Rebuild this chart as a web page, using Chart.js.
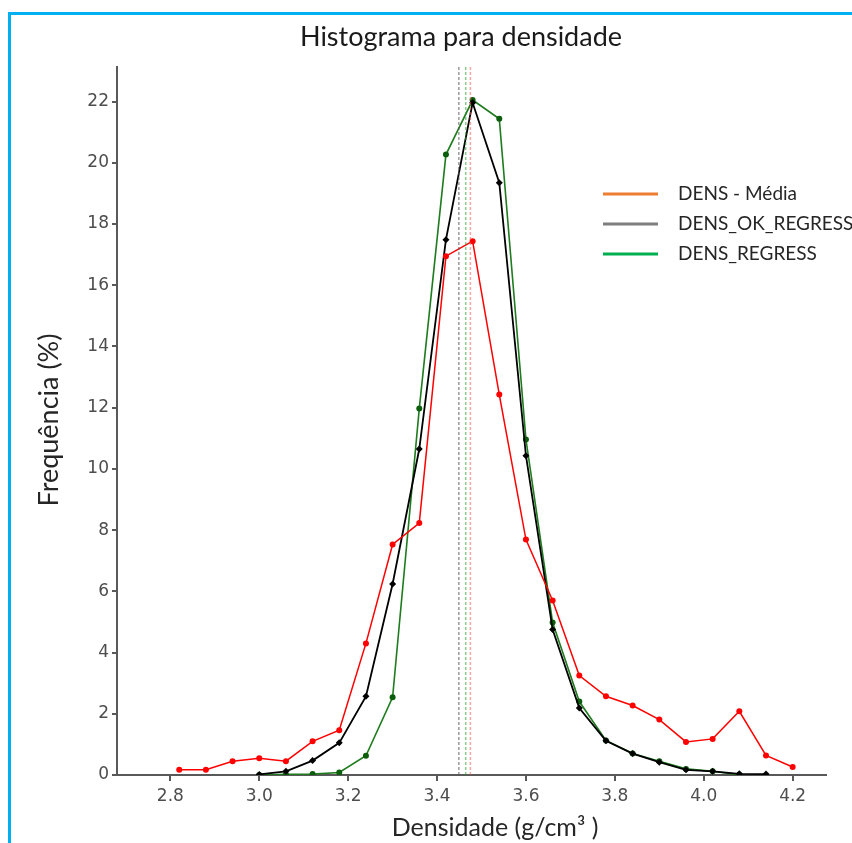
<!DOCTYPE html>
<html lang="pt">
<head>
    <meta charset="UTF-8">
    <title>Histograma para densidade</title>
    <style>
        body { margin: 0; padding: 0; background: #fff; overflow: hidden; }
        .wrap { position: relative; width: 852px; height: 843px; }
        .frame { position: absolute; left: 8px; top: 12px; right: -10px; bottom: -10px;
                 border-top: 3px solid #00B0F0; border-left: 3px solid #00B0F0; pointer-events: none; }
    </style>
    <script src="https://cdn.jsdelivr.net/npm/chart.js"></script>
</head>
<body>
<div class="wrap">
    <canvas id="histChart"></canvas>
    <div class="frame"></div>
</div>

<script>
    // bin centres (g/cm3)
    const binCenters = [2.82, 2.88, 2.94, 3.00, 3.06, 3.12, 3.18, 3.24, 3.30, 3.36, 3.42, 3.48,
                        3.54, 3.60, 3.66, 3.72, 3.78, 3.84, 3.90, 3.96, 4.02, 4.08, 4.14, 4.20];

    // frequency (%) per bin
    const densMedia = [0.17, 0.17, 0.45, 0.55, 0.45, 1.10, 1.46, 4.30, 7.53, 8.23, 16.95, 17.44,
                       12.43, 7.69, 5.70, 3.25, 2.57, 2.27, 1.81, 1.08, 1.18, 2.08, 0.64, 0.26];
    const densOkRegress = [null, null, null, 0.02, 0.12, 0.47, 1.05, 2.57, 6.24, 10.65, 17.49, 21.96,
                           19.35, 10.43, 4.75, 2.19, 1.12, 0.70, 0.42, 0.17, 0.12, 0.04, 0.03, null];
    const densRegress = [null, null, null, 0.00, 0.02, 0.03, 0.08, 0.63, 2.54, 11.97, 20.27, 22.05,
                         21.44, 10.96, 4.98, 2.40, 1.13, 0.70, 0.45, 0.20, 0.12, 0.01, null, null];

    // means drawn as dashed verticals
    const meanMedia = 3.475;
    const meanOkRegress = 3.449;
    const meanRegress = 3.4645;

    const xTicks = [2.8, 3.0, 3.2, 3.4, 3.6, 3.8, 4.0, 4.2];
    const yTicks = [0, 2, 4, 6, 8, 10, 12, 14, 16, 18, 20, 22];
    const xMin = 2.68, xMax = 4.275;
    const yMin = 0, yMax = 23.13;

    const legendNames = ['DENS - Média', 'DENS_OK_REGRESS', 'DENS_REGRESS'];
    const legendColors = ['#ED7D31', '#7F7F7F', '#00B050'];

    function toPoints(values) {
        return binCenters.map((x, i) => ({ x: x, y: values[i] }));
    }

    function meanLine(x) {
        return [{ x: x, y: yMin }, { x: x, y: yMax }];
    }

    // title, axis titles and the legend box drawn straight on the canvas
    const textPlugin = {
        id: 'textPlugin',
        afterDraw(chart) {
            const c = chart.ctx;
            c.save();
            c.fillStyle = '#1a1a1a';
            c.textAlign = 'center';
            c.textBaseline = 'middle';
            c.font = '27px Lato';
            c.fillText('Histograma para densidade', 461, 37);

            c.fillStyle = '#262626';
            c.font = '25px Lato';
            c.fillText('Densidade (g/cm³ )', 495, 828);

            c.save();
            c.translate(49, 420);
            c.rotate(-Math.PI / 2);
            c.font = '27px Lato';
            c.fillText('Frequência (%)', 0, 0);
            c.restore();

            c.textAlign = 'left';
            c.font = '19px Lato';
            legendNames.forEach((name, i) => {
                const y = 194 + i * 30;
                c.strokeStyle = legendColors[i];
                c.lineWidth = 3;
                c.beginPath();
                c.moveTo(603, y);
                c.lineTo(658, y);
                c.stroke();
                c.fillStyle = '#262626';
                c.fillText(name, 678, y);
            });
            c.restore();
        }
    };

    const ctx = document.getElementById('histChart').getContext('2d');
    const histChart = new Chart(ctx, {
        type: 'line',
        data: {
            datasets: [
                {
                    label: 'mean OK', data: meanLine(meanOkRegress),
                    borderColor: 'rgba(90,90,90,0.6)', borderWidth: 1.5, borderDash: [3, 2], pointRadius: 0
                },
                {
                    label: 'mean REG', data: meanLine(meanRegress),
                    borderColor: 'rgba(40,160,40,0.55)', borderWidth: 1.5, borderDash: [3, 2], pointRadius: 0
                },
                {
                    label: 'mean Média', data: meanLine(meanMedia),
                    borderColor: 'rgba(255,90,90,0.55)', borderWidth: 1.5, borderDash: [3, 2], pointRadius: 0
                },
                {
                    label: 'DENS - Média', data: toPoints(densMedia),
                    borderColor: '#FF0000', backgroundColor: '#FF0000', borderWidth: 1.5,
                    pointRadius: 3, pointStyle: 'circle', pointBorderWidth: 0
                },
                {
                    label: 'DENS_OK_REGRESS', data: toPoints(densOkRegress),
                    borderColor: '#000000', backgroundColor: '#000000', borderWidth: 1.8,
                    pointRadius: 3.5, pointStyle: 'rectRot', pointBorderWidth: 0
                },
                {
                    label: 'DENS_REGRESS', data: toPoints(densRegress),
                    borderColor: '#1E7B1E', backgroundColor: '#0B5E0B', borderWidth: 1.6,
                    pointRadius: 3, pointStyle: 'circle', pointBorderWidth: 0
                }
            ]
        },
        options: {
            responsive: true,
            maintainAspectRatio: false,
            animation: false,
            layout: { padding: { top: 67, right: 26, left: 0, bottom: 0 } },
            plugins: {
                legend: { display: false },
                title: { display: false },
                tooltip: { enabled: false }
            },
            scales: {
                x: {
                    type: 'linear',
                    min: xMin, max: xMax,
                    afterFit(scale) { scale.height = 68; },
                    afterBuildTicks(scale) { scale.ticks = xTicks.map(v => ({ value: v })); },
                    grid: { drawOnChartArea: false, drawTicks: true, tickLength: 6, color: '#595959', lineWidth: 2 },
                    border: { color: '#595959', width: 2 },
                    ticks: {
                        padding: 5, color: '#4d4d4d',
                        font: { family: 'DejaVu Sans', size: 17 },
                        callback: v => v.toFixed(1)
                    }
                },
                y: {
                    min: yMin, max: yMax,
                    afterFit(scale) { scale.width = 117; },
                    afterBuildTicks(scale) { scale.ticks = yTicks.map(v => ({ value: v })); },
                    grid: { drawOnChartArea: false, drawTicks: true, tickLength: 5, color: '#595959', lineWidth: 2 },
                    border: { color: '#595959', width: 2 },
                    ticks: {
                        padding: 3, color: '#4d4d4d',
                        font: { family: 'DejaVu Sans', size: 17 },
                        callback: v => String(v)
                    }
                }
            }
        },
        plugins: [textPlugin]
    });
</script>
</body>
</html>
